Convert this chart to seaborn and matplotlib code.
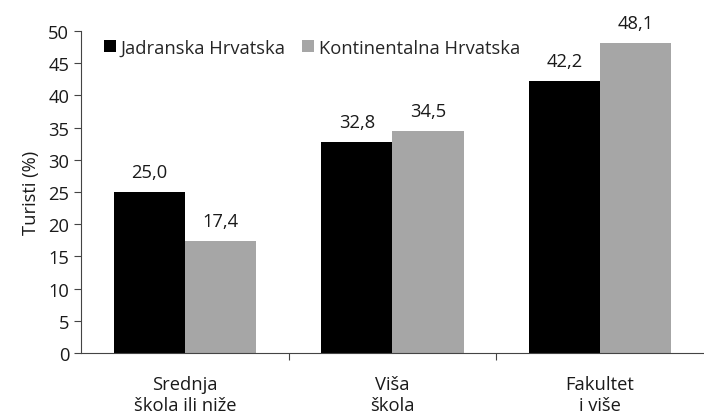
import matplotlib
matplotlib.use("Agg")
import matplotlib.pyplot as plt
import pandas as pd
import seaborn as sns
from matplotlib.patches import Patch

categories = ["Srednja\nškola ili niže", "Viša\nškola", "Fakultet\ni više"]
regions = ["Jadranska Hrvatska", "Kontinentalna Hrvatska"]
jadranska = [25.0, 32.8, 42.2]
kontinentalna = [17.4, 34.5, 48.1]
colors = ["#000000", "#a6a6a6"]

df = pd.DataFrame({
    "kategorija": categories * 2,
    "regija": [regions[0]] * 3 + [regions[1]] * 3,
    "vrijednost": jadranska + kontinentalna,
})

sns.set_theme(style="ticks")
plt.rcParams["font.family"] = ["Open Sans", "DejaVu Sans"]

FS = 13.2
TXT = "#1a1a1a"

fig, ax = plt.subplots(figsize=(7.04, 4.14), dpi=100)
fig.subplots_adjust(left=0.115, right=1.0, bottom=0.145, top=0.923)

sns.barplot(data=df, x="kategorija", y="vrijednost", hue="regija",
            palette=colors, width=0.686, saturation=1, linewidth=0,
            ax=ax, legend=False)

for cont in ax.containers:
    for bar in cont:
        h = bar.get_height()
        ax.annotate(f"{h:.1f}".replace(".", ","),
                    (bar.get_x() + bar.get_width() / 2, h),
                    xytext=(0, 8), textcoords="offset points",
                    ha="center", va="bottom", fontsize=FS, color=TXT)

ax.set_ylim(0, 50)
ax.set_yticks(range(0, 51, 5))
ax.set_xlim(-0.5, 2.5)
ax.set_xlabel("")
ax.set_ylabel("Turisti (%)", fontsize=FS, color=TXT, labelpad=6)
ax.set_xticks([0.5, 1.5], minor=True)
ax.tick_params(axis="x", which="major", length=0, labelsize=FS, pad=16,
               labelcolor=TXT)
for lbl in ax.get_xticklabels():
    lbl.set_linespacing(1.2)
ax.tick_params(axis="x", which="minor", length=5, width=0.8, color="#444444")
ax.tick_params(axis="y", length=5, width=0.8, labelsize=FS, color="#444444",
               labelcolor=TXT)
for s in ["top", "right"]:
    ax.spines[s].set_visible(False)
for s in ["left", "bottom"]:
    ax.spines[s].set_linewidth(0.8)
    ax.spines[s].set_color("#444444")

handles = [Patch(facecolor=c, edgecolor="none") for c in colors]
ax.legend(handles, regions, loc="upper left", bbox_to_anchor=(0.02, 1.01),
          ncol=2, frameon=False, fontsize=FS, handlelength=0.65,
          handleheight=0.65, handletextpad=0.25, columnspacing=0.9,
          borderaxespad=0.2)

fig.savefig("out.png", dpi=100)
